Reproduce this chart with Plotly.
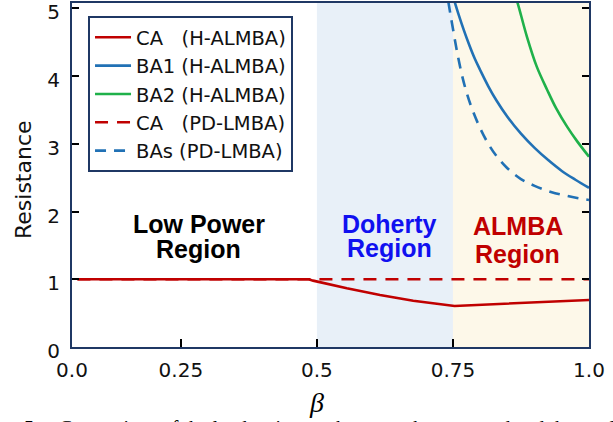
import plotly.graph_objects as go

# ---------------- data ----------------
beta_ca_h = [0.06, 0.485, 0.493, 0.555, 0.616, 0.677, 0.753, 1.0]
res_ca_h = [1.0, 1.0, 0.98, 0.867, 0.768, 0.684, 0.606, 0.695]

beta_ba1_h = [0.753, 0.760, 0.770, 0.780, 0.790, 0.800, 0.815, 0.830, 0.850,
              0.875, 0.900, 0.925, 0.950, 0.975, 1.0]
res_ba1_h = [5.10, 4.92, 4.68, 4.46, 4.26, 4.09, 3.85, 3.64, 3.40,
             3.15, 2.94, 2.76, 2.60, 2.47, 2.35]

beta_ba2_h = [0.868, 0.871, 0.886, 0.904, 0.923, 0.940, 0.960, 0.978, 1.0]
res_ba2_h = [5.10, 5.02, 4.58, 4.14, 3.80, 3.52, 3.25, 3.04, 2.81]

beta_ca_pd = [0.06, 1.0]
res_ca_pd = [1.0, 1.0]

beta_bas_pd = [0.7415, 0.745, 0.750, 0.755, 0.760, 0.767, 0.775, 0.785, 0.800,
               0.815, 0.830, 0.850, 0.875, 0.900, 0.930, 0.960, 1.0]
res_bas_pd = [5.10, 4.93, 4.70, 4.47, 4.26, 4.00, 3.76, 3.52, 3.23,
              3.00, 2.82, 2.64, 2.48, 2.38, 2.29, 2.23, 2.17]

x_ticks = [0.05, 0.25, 0.5, 0.75, 1.0]
x_tick_text = ["0.0", "0.25", "0.5", "0.75", "1.0"]
y_ticks = [0, 1, 2, 3, 4, 5]

regions = [(0.5, 0.75, "#e8f0f8"), (0.75, 1.0, "#fdf8e9")]

NB = "\u00a0"
names = [
    "CA" + NB * 3 + "(H-ALMBA)",
    "BA1 (H-ALMBA)",
    "BA2 (H-ALMBA)",
    "CA" + NB * 3 + "(PD-LMBA)",
    "BAs (PD-LMBA)",
]

RED = "#c00000"
BLUE = "#2171b5"
GREEN = "#1fb14a"
NAVY = "#1f3864"
SANS = "DejaVu Sans"

fig = go.Figure()
series = [
    (beta_ca_h, res_ca_h, RED, "solid", "linear"),
    (beta_ba1_h, res_ba1_h, BLUE, "solid", "spline"),
    (beta_ba2_h, res_ba2_h, GREEN, "solid", "spline"),
    (beta_ca_pd, res_ca_pd, RED, "13px,9px", "linear"),
    (beta_bas_pd, res_bas_pd, BLUE, "11px,8px", "spline"),
]
for (xs, ys, col, dash, shp), nm in zip(series, names):
    fig.add_trace(go.Scatter(x=xs, y=ys, mode="lines", name=nm,
                             line=dict(color=col, width=2.6, dash=dash, shape=shp)))

for x0, x1, col in regions:
    fig.add_shape(type="rect", xref="x", yref="paper", x0=x0, x1=x1, y0=0, y1=1,
                  fillcolor=col, line_width=0, layer="below")

TXT = dict(family="Liberation Sans, Arial", size=25)
labels = [
    (0.283, 1.81, "<b>Low Power</b>", "#000000"),
    (0.283, 1.44, "<b>Region</b>", "#000000"),
    (0.634, 1.82, "<b>Doherty</b>", "#1010f0"),
    (0.634, 1.46, "<b>Region</b>", "#1010f0"),
    (0.869, 1.78, "<b>ALMBA</b>", RED),
    (0.869, 1.37, "<b>Region</b>", RED),
]
for x, y, t, c in labels:
    fig.add_annotation(x=x, y=y, xref="x", yref="y", text=t, showarrow=False,
                       font=dict(TXT, color=c), xanchor="center", yanchor="middle")

# axis titles
fig.add_annotation(x=0.5, y=-0.16, xref="x", yref="paper", text="<i>β</i>", showarrow=False,
                   font=dict(family="Liberation Serif, Times New Roman", size=28, color="#000"),
                   xanchor="center", yanchor="middle")
fig.add_annotation(x=-0.095, y=0.488, xref="paper", yref="paper", text="Resistance",
                   showarrow=False, textangle=-90,
                   font=dict(family=SANS, size=22, color="#111"),
                   xanchor="center", yanchor="middle")
# clipped caption line at the very bottom
fig.add_annotation(x=-0.097, y=-0.238, xref="paper", yref="paper",
                   text="5." + NB * 4 + "Comparison of the load resistance between the proposed and the modified",
                   showarrow=False, xanchor="left", yanchor="middle",
                   font=dict(family="Liberation Serif, Times New Roman", size=20, color="#000"))

fig.update_layout(
    width=613, height=422,
    margin=dict(l=72, r=24, t=3, b=75, autoexpand=False),
    paper_bgcolor="white", plot_bgcolor="white",
    showlegend=True,
    legend=dict(x=0.031, y=0.962, xanchor="left", yanchor="top",
                bgcolor="white", bordercolor=NAVY, borderwidth=2,
                font=dict(family=SANS, size=19.5, color="#111"),
                tracegroupgap=0, itemwidth=36),
)
fig.update_xaxes(range=[0.05, 1.0], tickvals=x_ticks, ticktext=x_tick_text,
                 ticks="inside", ticklen=8, tickwidth=2, tickcolor="#000",
                 showline=True, linecolor=NAVY, linewidth=2, mirror=True,
                 showgrid=False, zeroline=False, automargin=False,
                 tickfont=dict(family=SANS, size=20, color="#111"),
                 ticklabelstandoff=4, ticklabeloverflow="allow")
fig.update_yaxes(range=[0, 5.08], tickvals=y_ticks,
                 ticks="inside", ticklen=7, tickwidth=2, tickcolor="#000",
                 showline=True, linecolor=NAVY, linewidth=2, mirror="ticks",
                 showgrid=False, zeroline=False, automargin=False,
                 tickfont=dict(family=SANS, size=20, color="#111"),
                 ticklabelstandoff=6, ticklabelshift=4, ticklabeloverflow="allow")

fig.write_html("out.html")
